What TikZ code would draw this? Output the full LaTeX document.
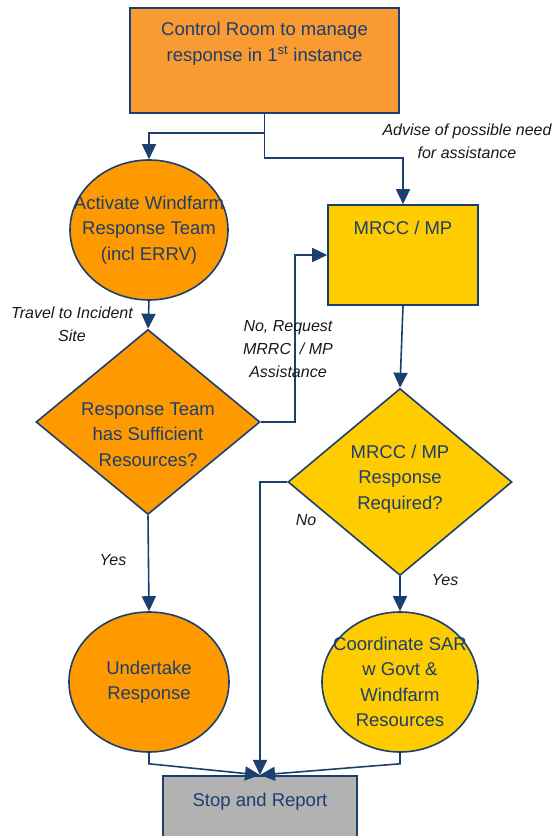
\documentclass[tikz,border=0pt]{standalone}
\usepackage{fontspec}
\setmainfont{Liberation Sans}
\usetikzlibrary{shapes.geometric,arrows.meta,positioning}
\definecolor{ctrlor}{HTML}{F99A32}
\definecolor{teamor}{HTML}{FF9900}
\definecolor{mrccyel}{HTML}{FFCC00}
\definecolor{stopgr}{HTML}{B2B2B2}
\definecolor{navy}{HTML}{1B3F6E}

\begin{document}
\begin{tikzpicture}[>={Triangle[width=14pt,length=15pt]},x=1pt,y=1pt,line width=1.6pt,
	box/.style={draw=navy,rectangle,inner sep=0pt},
	oval/.style={draw=navy,ellipse,inner sep=0pt},
	choice/.style={draw=navy,diamond,inner sep=0pt},
	txt/.style={align=center,text=navy,font=\fontsize{18.5}{25.5}\selectfont},
	note/.style={align=center,text=black!90,font=\fontsize{16}{23}\selectfont\itshape},
	flow/.style={draw=navy,->}]
	\useasboundingbox (0,0) rectangle (555,836);
	% shapes
	\node[box,fill=ctrlor,minimum width=269pt,minimum height=105pt] (ctrl) at (264.5,775.5) {};
	\node[oval,fill=teamor,minimum width=158pt,minimum height=140pt] (act) at (149,606) {};
	\node[box,fill=mrccyel,minimum width=150pt,minimum height=100pt] (mrcc) at (403,581) {};
	\node[choice,fill=teamor,minimum width=224pt,minimum height=185pt] (suff) at (148,414) {};
	\node[choice,fill=mrccyel,minimum width=224pt,minimum height=187pt] (req) at (400,354) {};
	\node[oval,fill=teamor,minimum width=160pt,minimum height=140pt] (und) at (149,154) {};
	\node[oval,fill=mrccyel,minimum width=156pt,minimum height=140pt] (coord) at (400,154) {};
	\node[box,fill=stopgr,minimum width=194pt,minimum height=80pt,anchor=north] (stop) at (260,61) {};
	% connectors
	\draw[flow] (ctrl.south) -- ++(0,-19) -| (act.north);
	\draw[flow] (ctrl.south) -- ++(0,-44) -| (mrcc.north);
	\draw[flow] (act.south) -- (suff.north);
	\draw[flow] (suff.east) -- ++(34,0) |- (mrcc.west);
	\draw[flow] (mrcc.south) -- (req.north);
	\draw[flow] (req.west) -| (stop.north);
	\draw[flow] (suff.south) -- (und.north);
	\draw[flow] (req.south) -- (coord.north);
	\draw[flow] (und.south) -- ++(0,-11) -- (stop.north);
	\draw[flow] (coord.south) -- ++(0,-11) -- (stop.north);
	% texts
	\node[txt,below=11pt of ctrl.north] (ctrltxt) {Control Room to manage\\response in 1\textsuperscript{st} instance};
	\node[txt] (acttxt) at (act) {Activate Windfarm\\Response Team\\(incl ERRV)};
	\node[txt,below=13pt of mrcc.north] (mrcctxt) {MRCC / MP};
	\node[txt] (sufftxt) at ([yshift=-12.5]suff.center) {Response Team\\has Sufficient\\Resources?};
	\node[txt] (reqtxt) at ([yshift=3]req.center) {MRCC / MP\\Response\\Required?};
	\node[txt] (undtxt) at (und) {Undertake\\Response};
	\node[txt] (coordtxt) at (coord) {Coordinate SAR\\w Govt \&\\Windfarm\\Resources};
	\node[txt,below=14pt of stop.north] (stoptxt) {Stop and Report};
	% labels
	\node[note] (advise) at (467,694.5) {Advise of possible need\\for assistance};
	\node[note] (travel) at (72,511.5) {Travel to Incident\\Site};
	\node[note] (noreq) at (288,487) {No, Request\\MRRC\ \ / MP\\Assistance};
	\node[note] (nolbl) at (306,316) {No};
	\node[note] (yesleft) at (113,276) {Yes};
	\node[note] (yesright) at (445,256) {Yes};
\end{tikzpicture}
\end{document}
